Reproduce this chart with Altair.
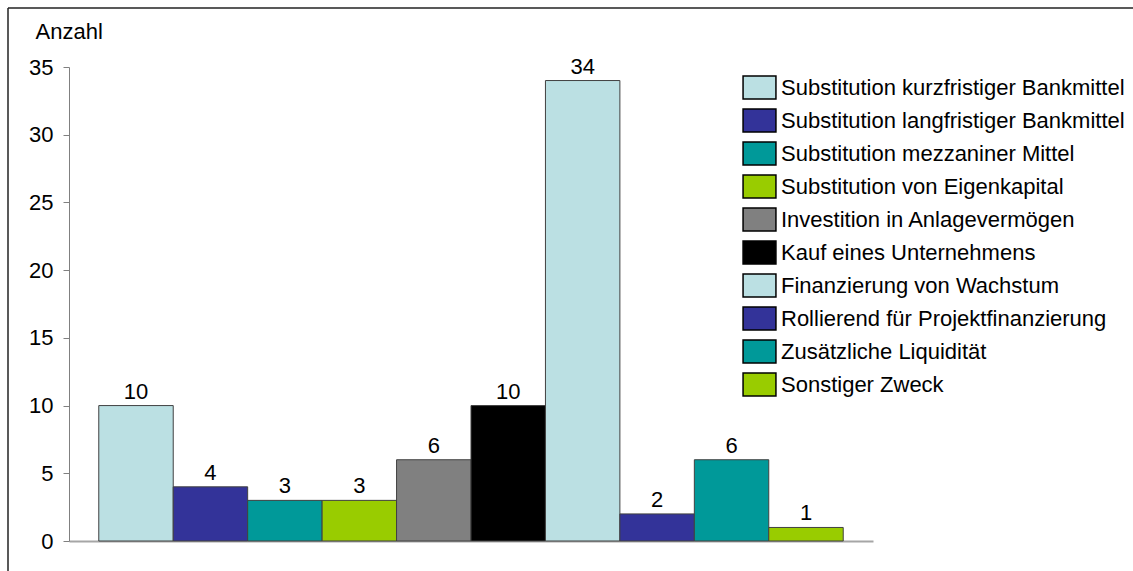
import altair as alt
import pandas as pd

# Verwendungszwecke und Anzahl der Nennungen
categories = [
    "Substitution kurzfristiger Bankmittel",
    "Substitution langfristiger Bankmittel",
    "Substitution mezzaniner Mittel",
    "Substitution von Eigenkapital",
    "Investition in Anlagevermögen",
    "Kauf eines Unternehmens",
    "Finanzierung von Wachstum",
    "Rollierend für Projektfinanzierung",
    "Zusätzliche Liquidität",
    "Sonstiger Zweck",
]
values = [10, 4, 3, 3, 6, 10, 34, 2, 6, 1]
colors = [
    "#BBE0E3", "#333399", "#009999", "#99CC00", "#808080",
    "#000000", "#BBE0E3", "#333399", "#009999", "#99CC00",
]
y_ticks = [0, 5, 10, 15, 20, 25, 30, 35]

FONT = "Liberation Sans, Arial, sans-serif"
FS = 22

df = pd.DataFrame({"Zweck": categories, "Anzahl": values})

x_enc = alt.X(
    "Zweck:N",
    sort=categories,
    scale=alt.Scale(paddingInner=0, paddingOuter=0.4),
    axis=alt.Axis(title=None, labels=False, ticks=False,
                  domainColor="#a6a6a6", domainWidth=2),
)
y_enc = alt.Y(
    "Anzahl:Q",
    scale=alt.Scale(domain=[0, 35], nice=False),
    axis=alt.Axis(
        values=y_ticks, grid=False,
        domainColor="#808080", tickColor="#808080", tickSize=6,
        labelPadding=10, labelFontSize=FS, labelFont=FONT, labelColor="black",
        title="Anzahl", titleAngle=0, titleAlign="left", titleBaseline="alphabetic",
        titleX=-34, titleY=-29, titleFontSize=FS, titleFont=FONT,
        titleFontWeight="normal", titleColor="black",
    ),
)

bars = alt.Chart(df).mark_bar(stroke="#404040", strokeWidth=1).encode(
    x=x_enc,
    y=y_enc,
    fill=alt.Fill(
        "Zweck:N",
        sort=categories,
        scale=alt.Scale(domain=categories, range=colors),
        legend=alt.Legend(
            title=None, orient="none", legendX=678, legendY=8,
            symbolType="M-1.43,-1L1.43,-1L1.43,1L-1.43,1Z",
            symbolSize=529, symbolStrokeColor="black", symbolStrokeWidth=1.5,
            symbolOpacity=1,
            labelFontSize=FS, labelFont=FONT, labelColor="black",
            labelOffset=9, labelLimit=0, rowPadding=4, padding=0,
        ),
    ),
)

labels = alt.Chart(df).mark_text(
    dy=-7, baseline="alphabetic", fontSize=FS, font=FONT, color="black"
).encode(x=alt.X("Zweck:N", sort=categories), y="Anzahl:Q", text="Anzahl:Q")

frame = alt.Chart(pd.DataFrame({"k": [0]}))
top_line = frame.mark_rule(color="#222222", strokeWidth=1.5).encode(
    x=alt.value(-61), x2=alt.value(1064), y=alt.value(-59)
)
left_line = frame.mark_rule(color="#222222", strokeWidth=1.5).encode(
    x=alt.value(-61), y=alt.value(-59), y2=alt.value(504)
)

chart = (
    alt.layer(bars, labels, top_line, left_line)
    .properties(
        width=804, height=474,
        padding={"left": 69, "top": 67, "right": 260, "bottom": 30},
        autosize=alt.AutoSizeParams(type="none"),
        background="white",
    )
    .configure_view(stroke=None)
)

chart.save("out.html", embed_options={"renderer": "svg", "actions": False})
